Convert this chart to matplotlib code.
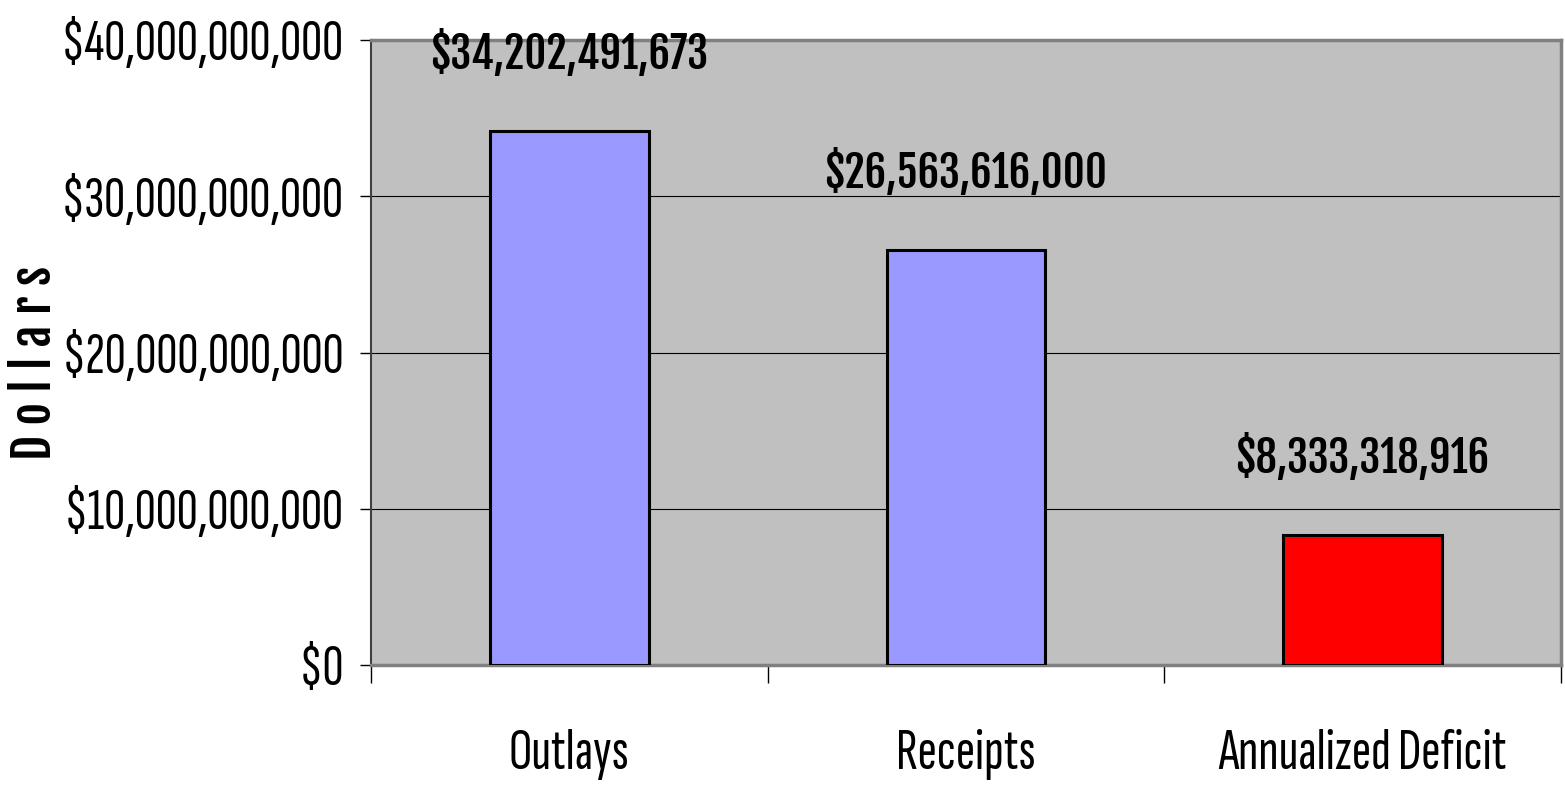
import matplotlib
matplotlib.use("Agg")
import matplotlib.pyplot as plt
from matplotlib.ticker import FuncFormatter, FixedLocator

# data
categories = ["Outlays", "Receipts", "Annualized Deficit"]
values = [34202491673, 26563616000, 8333318916]
bar_colors = ["#9999FF", "#9999FF", "#FF0000"]
y_ticks = [0, 10e9, 20e9, 30e9, 40e9]

FONT = ["Sofia Sans Extra Condensed", "DejaVu Sans"]
BOLD = ["Fjalla One", "DejaVu Sans"]
plt.rcParams["font.family"] = FONT

fig = plt.figure(figsize=(15.65, 7.93), dpi=100)
ax = fig.add_axes([371 / 1565, 128 / 793, 1190 / 1565, 625 / 793])
ax.set_facecolor("#C0C0C0")

x = list(range(len(categories)))
bars = ax.bar(x, values, width=0.4, color=bar_colors, edgecolor="black",
              linewidth=2.2, zorder=3)

for b, v in zip(bars, values):
    ax.annotate(f"${v:,.0f}", (b.get_x() + b.get_width() / 2, v),
                xytext=(0, 38), textcoords="offset points",
                ha="center", va="bottom", fontsize=30.5,
                family=BOLD, annotation_clip=False, zorder=4)

ax.set_xlim(-0.5, 2.5)
ax.set_ylim(0, 40e9)
ax.set_yticks(y_ticks)
ax.yaxis.set_major_formatter(FuncFormatter(lambda v, p: f"${v:,.0f}"))
ax.tick_params(axis="y", direction="out", length=8, width=1, labelsize=42, pad=12)

ax.set_xticks(x)
ax.set_xticklabels(categories)
ax.xaxis.set_minor_locator(FixedLocator([-0.5, 0.5, 1.5, 2.5]))
ax.tick_params(axis="x", which="major", length=0, labelsize=42, pad=46)
ax.tick_params(axis="x", which="minor", direction="out", length=13, width=1)

ax.grid(axis="y", color="black", linewidth=0.8, zorder=1)
ax.set_axisbelow(True)

for side in ["top", "right", "bottom"]:
    ax.spines[side].set_color("#808080")
    ax.spines[side].set_linewidth(2.5)
ax.spines["left"].set_color("#404040")
ax.spines["left"].set_linewidth(1.5)

fig.text(35 / 1565, 1 - 363 / 793, "D o l l a r s", rotation=90,
         ha="center", va="center", fontsize=35, family=BOLD)

fig.savefig("out.png", dpi=100)
